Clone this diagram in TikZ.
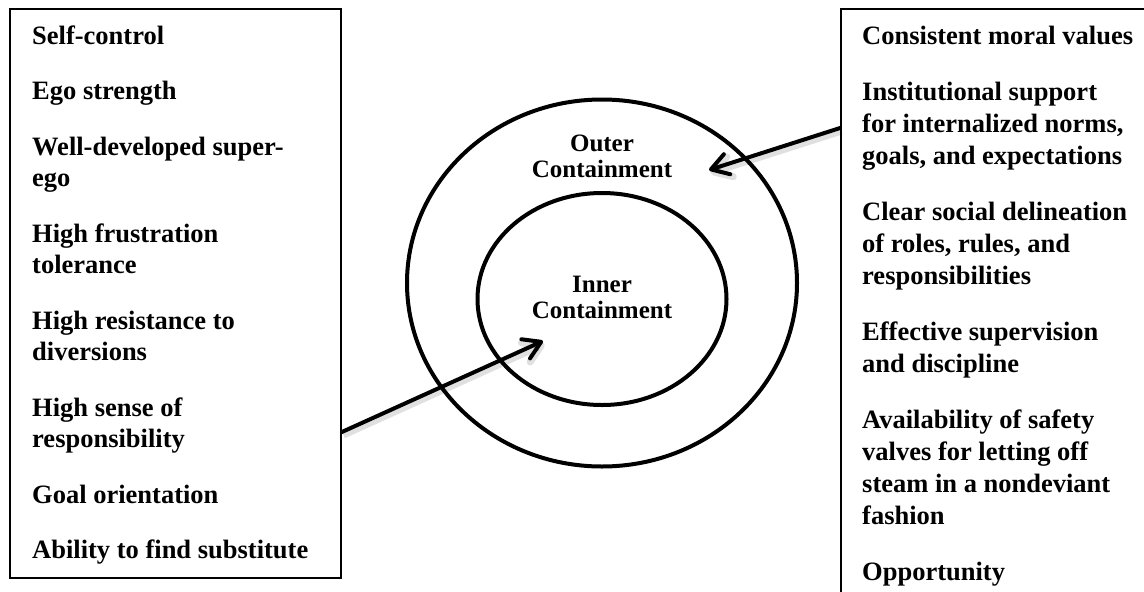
\documentclass[tikz,border=0pt]{standalone}
\usepackage{fontspec}
\setmainfont{Liberation Serif}
\usetikzlibrary{arrows.meta,shapes.geometric}
\begin{document}
\begin{tikzpicture}[x=1pt,y=-1pt,
  listtext/.style={anchor=base west,inner sep=0pt,font=\fontsize{26.5}{31}\selectfont\bfseries},
  panel/.style={rectangle,draw=black,line width=1.8pt,fill=white,inner sep=0pt},
  ring/.style={ellipse,draw=black,line width=4pt,inner sep=0pt},
  ringlabel/.style={align=center,inner sep=0pt,font=\fontsize{25}{25.5}\selectfont\bfseries},
  pointer/.style={line width=4pt,line cap=round,
    -{Straight Barb[length=17pt,width=21pt,round]},
    preaction={draw=black,opacity=0.12,line width=7pt,
      transform canvas={shift={(1.5pt,-3pt)}}}}
]
\useasboundingbox (0,0) rectangle (1144,592);
\clip (0,0) rectangle (1144,592);

% side panels
\node[panel,minimum width=331pt,minimum height=569pt] (lbox) at (175.5,293.5) {};
\node[panel,minimum width=319pt,minimum height=601pt] (rbox) at (1000.5,309.5) {};

% inner and outer containment rings
\node[ring,minimum width=390pt,minimum height=367pt] (outer) at (602,283) {};
\node[ring,minimum width=249pt,minimum height=212pt] (inner) at (602,299) {};

\node[ringlabel] (outerlabel) at (602,159.6) {\strut Outer\\Containment\strut};
\node[ringlabel] (innerlabel) at (602,300.6) {\strut Inner\\Containment\strut};

% inner containment factors
\foreach \y/\t [count=\i] in {
  44/Self-control,
  99.5/Ego strength,
  155/Well-developed super-,
  186.5/ego,
  242/High frustration,
  273.5/tolerance,
  329/High resistance to,
  360.5/diversions,
  416/High sense of,
  447.5/responsibility,
  503/Goal orientation,
  558.5/Ability to find substitute}
  \node[listtext] (L\i) at (32,\y) {\t};

% outer containment factors
\foreach \y/\t [count=\i] in {
  44/Consistent moral values,
  100/Institutional support,
  132/{for internalized norms,},
  164/{goals, and expectations},
  220/Clear social delineation,
  252/{of roles, rules, and},
  284/responsibilities,
  340/Effective supervision,
  372/and discipline,
  428/Availability of safety,
  460/valves for letting off,
  492/steam in a nondeviant,
  524/fashion,
  580/Opportunity}
  \node[listtext] (R\i) at (862,\y) {\t};

% arrows pointing into the rings
\coordinate (ltip) at (543,341);
\coordinate (rtip) at (709,170);
\draw[pointer] (lbox.east |- 0,432) -- (ltip);
\draw[pointer] (rbox.west |- 0,128) -- (rtip);
\end{tikzpicture}
\end{document}
